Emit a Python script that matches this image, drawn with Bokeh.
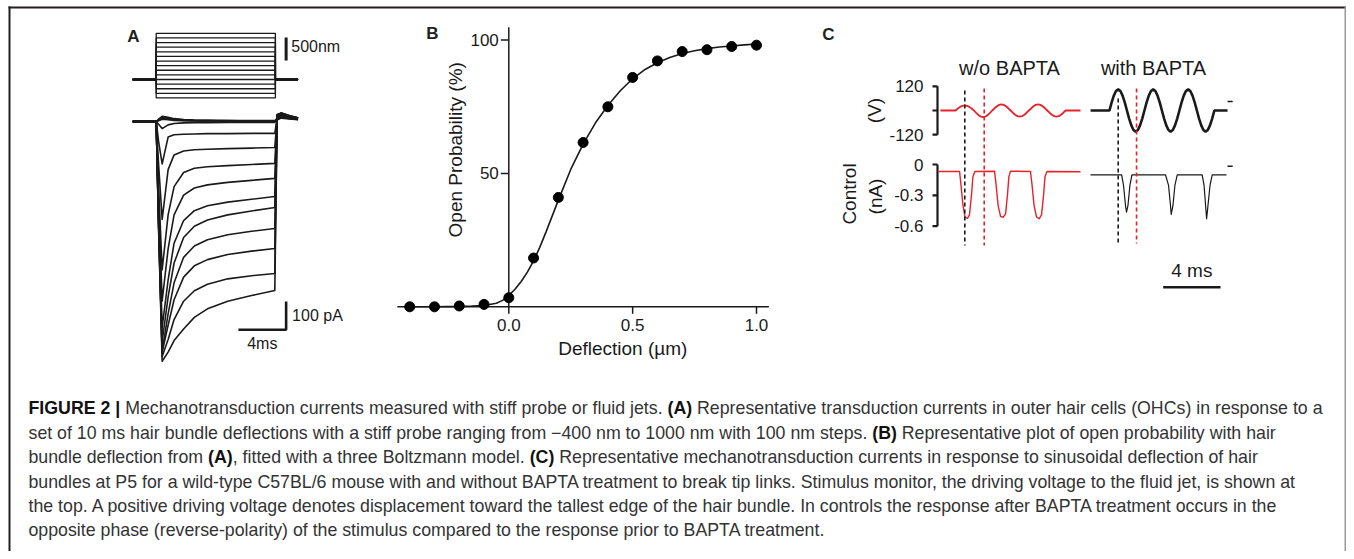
import glob
import numpy as np
from bokeh.plotting import figure
from bokeh.models import Range1d
from bokeh.core.properties import value
from bokeh.embed import file_html
from bokeh.resources import INLINE

# ---------------- Panel A data ----------------
stim_levels_nm = [-400, -300, -200, -100, 0, 100, 200, 300, 400, 500, 600, 700, 800, 900, 1000]
stim_t_ms = [-1.97, 0.0, 0.0, 10.0, 10.0, 11.9]

trace_t_ms = [-1.97, 0.0, 0.2, 0.5, 1.0, 1.5, 2.3, 3.2, 4.3, 6.0, 8.0, 9.95, 10.15, 10.5, 11.2, 11.9]
cur_m400 = [0, 0, 8, 18, 15, 10, 7, 5, 4, 3, 3, 3, 6, 12, 9, 6]
cur_m300 = [0, 0, 6, 15, 12, 8, 6, 4, 3, 3, 2, 2, 7, 14, 10, 7]
cur_m200 = [0, 0, 5, 12, 9, 6, 4, 3, 3, 2, 2, 2, 9, 16, 11, 8]
cur_m100 = [0, 0, 3, 8, 6, 4, 3, 2, 2, 2, 1, 1, 11, 18, 12, 8]
cur_0 = [0, 0, -10, -25, -12, -7, -5, -4, -4, -3, -3, -3, 13, 20, 13, 9]
cur_100 = [0, 0, -70, -150, -55, -47, -45, -44, -43, -43, -42, -42, 15, 24, 15, 10]
cur_200 = [0, 0, -150, -346, -170, -118, -104, -100, -98, -96, -94, -92, 17, 25, 16, 10]
cur_300 = [0, 0, -230, -524, -330, -230, -180, -165, -160, -156, -152, -148, 18, 26, 17, 11]
cur_400 = [0, 0, -280, -634, -450, -330, -260, -235, -224, -215, -208, -201, 20, 27, 17, 11]
cur_500 = [0, 0, -320, -727, -560, -430, -350, -315, -298, -285, -275, -265, 21, 28, 18, 11]
cur_600 = [0, 0, -340, -777, -620, -500, -410, -370, -348, -330, -316, -304, 22, 28, 18, 12]
cur_700 = [0, 0, -360, -811, -680, -570, -480, -440, -418, -400, -388, -378, 22, 29, 19, 12]
cur_800 = [0, 0, -360, -815, -720, -630, -550, -510, -488, -470, -458, -449, 23, 29, 19, 12]
cur_900 = [0, 0, -370, -830, -770, -700, -635, -598, -575, -556, -545, -537, 24, 30, 20, 12]
cur_1000 = [0, 0, -380, -847, -815, -774, -733, -692, -662, -635, -615, -597, 25, 30, 20, 13]
currents_pA = [cur_m400, cur_m300, cur_m200, cur_m100, cur_0, cur_100, cur_200, cur_300,
               cur_400, cur_500, cur_600, cur_700, cur_800, cur_900, cur_1000]

# ---------------- Panel B data ----------------
defl_um = [-0.4, -0.3, -0.2, -0.1, 0.0, 0.1, 0.2, 0.3, 0.4, 0.5, 0.6, 0.7, 0.8, 0.9, 1.0]
open_prob_pct = [0, 0, 0.3, 0.9, 3.4, 18.3, 41.0, 61.6, 75.0, 86.0, 92.2, 95.7, 96.4, 97.6, 98.1]
fit_x_um = [-0.45, -0.4, -0.35, -0.3, -0.25, -0.2, -0.15, -0.1, -0.05, -0.025, 0.0, 0.025, 0.05,
            0.075, 0.1, 0.125, 0.15, 0.2, 0.25, 0.3, 0.35, 0.4, 0.45, 0.5, 0.55, 0.6, 0.65,
            0.7, 0.75, 0.8, 0.85, 0.9, 0.95, 1.0]
fit_y_pct = [0, 0, 0, 0, 0.05, 0.1, 0.25, 0.5, 1.3, 2.4, 4.3, 6.6, 9.5, 13.0, 17.2, 22.3,
             28.0, 40.0, 51.5, 61.0, 69.0, 75.5, 81.0, 85.5, 89.0, 91.5, 93.5, 95.0, 96.0,
             96.8, 97.4, 97.8, 98.2, 98.5]
b_xticks = [0.0, 0.5, 1.0]
b_xtick_labels = ["0.0", "0.5", "1.0"]
b_yticks = [50, 100]
b_ytick_labels = ["50", "100"]

# ---------------- Panel C data ----------------
stim_red_V = [0, 10, 18, 23, 25, 23, 18, 10, 0, -12, -23, -30, -33, -30, -23, -12,
              0, 11, 21, 28, 30, 28, 21, 11, 0, -11, -21, -28, -30, -28, -21, -11,
              0, 11, 21, 28, 30, 28, 21, 11, 0, -11, -21, -28, -30, -28, -21, -11, 0]
stim_red_span_ms = (1.26, 8.94)
stim_red_flat_ms = (0.21, 9.98)
stim_blk_V = [0, 40, 74, 97, 105, 97, 74, 40, 0, -40, -74, -97, -105, -97, -74, -40,
              0, 40, 74, 97, 105, 97, 74, 40, 0, -40, -74, -97, -105, -97, -74, -40,
              0, 40, 74, 97, 105, 97, 74, 40, 0, -40, -74, -97, -105, -97, -74, -40, 0]
stim_blk_span_ms = (12.0, 19.32)
stim_blk_flat_ms = (10.68, 20.24)

cur_red_t = [0.07, 1.54, 1.64, 1.78, 1.92, 2.09, 2.23, 2.37, 2.47, 2.61, 3.98, 4.09, 4.23,
             4.40, 4.58, 4.75, 4.88, 4.98, 5.09, 6.49, 6.60, 6.74, 6.91, 7.09, 7.26, 7.40,
             7.50, 7.64, 9.98]
cur_red_nA = [-0.068, -0.068, -0.2, -0.4, -0.51, -0.525, -0.49, -0.3, -0.12, -0.068,
              -0.065, -0.2, -0.4, -0.505, -0.513, -0.48, -0.3, -0.12, -0.065,
              -0.068, -0.2, -0.4, -0.51, -0.528, -0.49, -0.3, -0.12, -0.068, -0.07]
cur_blk_t = [10.68, 12.85, 12.98, 13.12, 13.19, 13.29, 13.43, 13.57, 15.91, 16.12, 16.26,
             16.31, 16.43, 16.57, 16.73, 18.47, 18.60, 18.72, 18.78, 18.86, 19.02, 19.17, 20.17]
cur_blk_nA = [-0.1, -0.1, -0.2, -0.40, -0.464, -0.40, -0.2, -0.1, -0.1, -0.2, -0.40,
              -0.486, -0.4, -0.2, -0.1, -0.1, -0.2, -0.42, -0.528, -0.42, -0.2, -0.1, -0.1]
phase_black_ms = [1.905, 12.61]
phase_red_ms = [3.26, 13.89]
c_V_ticks = [120, 0, -120]
c_V_labels = ["120", "", "-120"]
c_I_ticks = [0, -0.3, -0.6]
c_I_labels = ["0", "-0.3", "-0.6"]

caption_lines = [
    [("FIGURE 2 | ", True), ("Mechanotransduction currents measured with stiff probe or fluid jets. ", False),
     ("(A)", True), (" Representative transduction currents in outer hair cells (OHCs) in response to a", False)],
    [("set of 10 ms hair bundle deflections with a stiff probe ranging from \u2212400 nm to 1000 nm with 100 nm steps. ", False),
     ("(B)", True), (" Representative plot of open probability with hair", False)],
    [("bundle deflection from ", False), ("(A)", True), (", fitted with a three Boltzmann model. ", False),
     ("(C)", True), (" Representative mechanotransduction currents in response to sinusoidal deflection of hair", False)],
    [("bundles at P5 for a wild-type C57BL/6 mouse with and without BAPTA treatment to break tip links. Stimulus monitor, the driving voltage to the fluid jet, is shown at", False)],
    [("the top. A positive driving voltage denotes displacement toward the tallest edge of the hair bundle. In controls the response after BAPTA treatment occurs in the", False)],
    [("opposite phase (reverse-polarity) of the stimulus compared to the response prior to BAPTA treatment.", False)],
]

# ---------------- figure ----------------
W, H = 1346, 551
OX, OY = 0, 0          # page position of the canvas (observed)
FONT = "Liberation Sans"
INK = "#1a1a1a"
RED = "#e8222a"

p = figure(width=W, height=H, x_range=Range1d(OX, OX + W), y_range=Range1d(OY + H, OY),
           output_backend="svg", toolbar_location=None, min_border=0,
           x_axis_type=None, y_axis_type=None, outline_line_color=None,
           background_fill_color="white", border_fill_color="white")
p.grid.visible = False


def xmap(px0, k, d0=0.0):
    s = d0 - (px0 - OX) / k
    return Range1d(s, s + W / k)


def ymap(py0, k, d0=0.0):
    return Range1d(d0 - (OY + H - py0) / k, d0 + (py0 - OY) / k)


KA_T, KA_I, KA_S = 11.92, 0.283, 0.04614
KB_X, KB_Y = 247.7, 2.667
KC_T, KC_V, KC_I = 14.33, 0.2013, 102.8
p.extra_x_ranges = {"ta": xmap(155.7, KA_T), "bx": xmap(508.3, KB_X), "tc": xmap(937, KC_T)}
p.extra_y_ranges = {"ia": ymap(121, KA_I), "sa": ymap(79, KA_S), "by": ymap(306.3, KB_Y),
                    "vc": ymap(110, KC_V), "ic": ymap(164, KC_I)}


def txt(x, y, s, size, rng=None, align="left", bold=False, angle=0.0, color=INK, font=FONT):
    kw = {}
    if rng:
        kw = dict(x_range_name=rng[0], y_range_name=rng[1])
    p.text(x=[x], y=[y], text=[s], text_font=value(font), text_font_size=f"{size}px",
           text_align=align, text_baseline="middle", text_color=color, angle=angle,
           text_font_style="bold" if bold else "normal", **kw)


# frame of the figure box (open at the bottom)
p.line([8, OX + W], [7, 7], line_color="#231f20", line_width=2)
p.line([9, 9], [6, OY + H], line_color="#231f20", line_width=2)
p.line([OX + W - 1, OX + W - 1], [6, OY + H], line_color="#9a9a9a", line_width=2)

# panel letters
txt(133, 36, "A", 17, align="center", bold=True, color="#231f20")
txt(432, 33, "B", 17, align="center", bold=True, color="#231f20")
txt(828, 34, "C", 17, align="center", bold=True, color="#231f20")

# ---------------- Panel A ----------------
p.multi_line([stim_t_ms] * len(stim_levels_nm), [[0, 0, L, L, 0, 0] for L in stim_levels_nm],
             x_range_name="ta", y_range_name="sa", line_color=INK, line_width=1.3)
p.line([10.9, 10.9], [910, 410], x_range_name="ta", y_range_name="sa", line_color=INK, line_width=3)
txt(11.33, 715, "500nm", 16, rng=("ta", "sa"))

p.multi_line([trace_t_ms] * len(currents_pA), currents_pA, x_range_name="ta", y_range_name="ia",
             line_color=INK, line_width=1.6, line_join="round")
p.line([6.9, 10.9, 10.9], [-736, -736, -636], x_range_name="ta", y_range_name="ia",
       line_color=INK, line_width=2.6)
txt(11.4, -686, "100 pA", 16, rng=("ta", "ia"))
txt(8.9, -785, "4ms", 16, rng=("ta", "ia"), align="center")

# ---------------- Panel B ----------------
bR = dict(x_range_name="bx", y_range_name="by")
p.line([0, 0], [0, 104.8], line_color=INK, line_width=1.5, **bR)
p.line([-0.424, 1.05], [0, 0], line_color=INK, line_width=1.5, **bR)
p.segment(x0=[-8 / KB_X] * len(b_yticks), y0=b_yticks, x1=[0] * len(b_yticks), y1=b_yticks,
          line_color=INK, line_width=1.5, **bR)
p.segment(x0=b_xticks, y0=[0] * 3, x1=b_xticks, y1=[-7 / KB_Y] * 3, line_color=INK, line_width=1.5, **bR)
p.text(x=[-10 / KB_X] * len(b_yticks), y=b_yticks, text=b_ytick_labels, text_font=value(FONT),
       text_font_size="17px", text_align="right", text_baseline="middle", text_color=INK, **bR)
p.text(x=b_xticks, y=[-18 / KB_Y] * 3, text=b_xtick_labels, text_font=value(FONT),
       text_font_size="17px", text_align="center", text_baseline="middle", text_color=INK, **bR)
txt(-53 / KB_X, 157 / KB_Y, "Open Probability (%)", 19, rng=("bx", "by"), align="center", angle=np.pi / 2)
txt(114 / KB_X, -42 / KB_Y, "Deflection (\u00b5m)", 19, rng=("bx", "by"), align="center")
p.line(fit_x_um, fit_y_pct, line_color=INK, line_width=1.6, **bR)
p.scatter(defl_um, open_prob_pct, size=10, marker="circle", fill_color="black", line_color="black", **bR)

# ---------------- Panel C ----------------
vR = dict(x_range_name="tc", y_range_name="vc")
iR = dict(x_range_name="tc", y_range_name="ic")
tk = 5 / KC_T
p.line([0, 0], [120, -120], line_color=INK, line_width=2.2, **vR)
p.segment(x0=[-tk] * 3, y0=c_V_ticks, x1=[0] * 3, y1=c_V_ticks, line_color=INK, line_width=2.2, **vR)
p.line([0, 0], [0, -0.6], line_color=INK, line_width=2.2, **iR)
p.segment(x0=[-tk] * 3, y0=c_I_ticks, x1=[0] * 3, y1=c_I_ticks, line_color=INK, line_width=2.2, **iR)
p.text(x=[-14 / KC_T] * 3, y=c_V_ticks, text=c_V_labels, text_font=value(FONT), text_font_size="17px",
       text_align="right", text_baseline="middle", text_color=INK, **vR)
p.text(x=[-14 / KC_T] * 3, y=c_I_ticks, text=c_I_labels, text_font=value(FONT), text_font_size="17px",
       text_align="right", text_baseline="middle", text_color=INK, **iR)
txt(-63 / KC_T, 0, "(V)", 19, rng=("tc", "vc"), align="center", angle=np.pi / 2)
txt(-88 / KC_T, -29.5 / KC_I, "Control", 19, rng=("tc", "ic"), align="center", angle=np.pi / 2)
txt(-62 / KC_T, -32 / KC_I, "(nA)", 19, rng=("tc", "ic"), align="center", angle=np.pi / 2)
txt(1009, 67, "w/o BAPTA", 20, align="center")
txt(1153, 67, "with BAPTA", 20, align="center")

t_red = [stim_red_flat_ms[0]] + list(np.linspace(*stim_red_span_ms, len(stim_red_V))) + [stim_red_flat_ms[1]]
v_red = [0] + stim_red_V + [0]
t_blk = [stim_blk_flat_ms[0]] + list(np.linspace(*stim_blk_span_ms, len(stim_blk_V))) + [stim_blk_flat_ms[1]]
v_blk = [0] + stim_blk_V + [0]
p.line(t_red, v_red, line_color=RED, line_width=1.8, **vR)
p.line(t_blk, v_blk, line_color=INK, line_width=2.6, **vR)
p.line(cur_red_t, cur_red_nA, line_color=RED, line_width=1.4, line_join="round", **iR)
p.line(cur_blk_t, cur_blk_nA, line_color=INK, line_width=1.2, line_join="round", **iR)

p.segment(x0=phase_black_ms, y0=[74 / KC_I, 66 / KC_I], x1=phase_black_ms, y1=[-81 / KC_I, -79 / KC_I],
          line_color=INK, line_width=1.6, line_dash="4 3", **iR)
p.segment(x0=phase_red_ms, y0=[76 / KC_I, 76 / KC_I], x1=phase_red_ms, y1=[-81 / KC_I, -79 / KC_I],
          line_color=RED, line_width=1.6, line_dash="4 3", **iR)
# small end markers
p.segment(x0=[20.24], y0=[44.7], x1=[20.6], y1=[44.7], line_color=INK, line_width=1.5, **vR)
p.segment(x0=[20.24], y0=[-0.017], x1=[20.6], y1=[-0.017], line_color=INK, line_width=1.5, **iR)
# 4 ms scale bar
p.line([15.75, 19.75], [-1.194, -1.194], line_color=INK, line_width=2.4, **iR)
txt(17.75, -1.03, "4 ms", 19, rng=("tc", "ic"), align="center")

# ---------------- caption ----------------
def find_font(name):
    for root in ("/usr/share/fonts", "/usr/local/share/fonts"):
        hits = glob.glob(f"{root}/**/{name}", recursive=True)
        if hits:
            return hits[0]
    return None


try:
    from PIL import ImageFont
    _fr = ImageFont.truetype(find_font("LiberationSans-Regular.ttf"), 100)
    _fb = ImageFont.truetype(find_font("LiberationSans-Bold.ttf"), 100)

    def w100(s, b):
        return (_fb if b else _fr).getlength(s)
except Exception:
    def w100(s, b):
        return len(s) * (55.0 if b else 50.0)

CAP_X0, CAP_X1 = 28, 1322
line1_w = sum(w100(s, b) for s, b in caption_lines[0])
cap_size = (CAP_X1 - CAP_X0) * 100.0 / line1_w
cap_ys = [407, 432, 456, 481, 505, 529]
for y, pieces in zip(cap_ys, caption_lines):
    x = CAP_X0
    for s, b in pieces:
        lead = len(s) - len(s.lstrip(" "))
        if lead:
            x += w100(s[:lead], b) * cap_size / 100.0
        body = s.strip(" ")
        txt(x, y, body, round(cap_size, 2), bold=b, color="#111111" if b else "#333333")
        x += w100(s[lead:], b) * cap_size / 100.0

open("out.html", "w").write(file_html(p, INLINE))
